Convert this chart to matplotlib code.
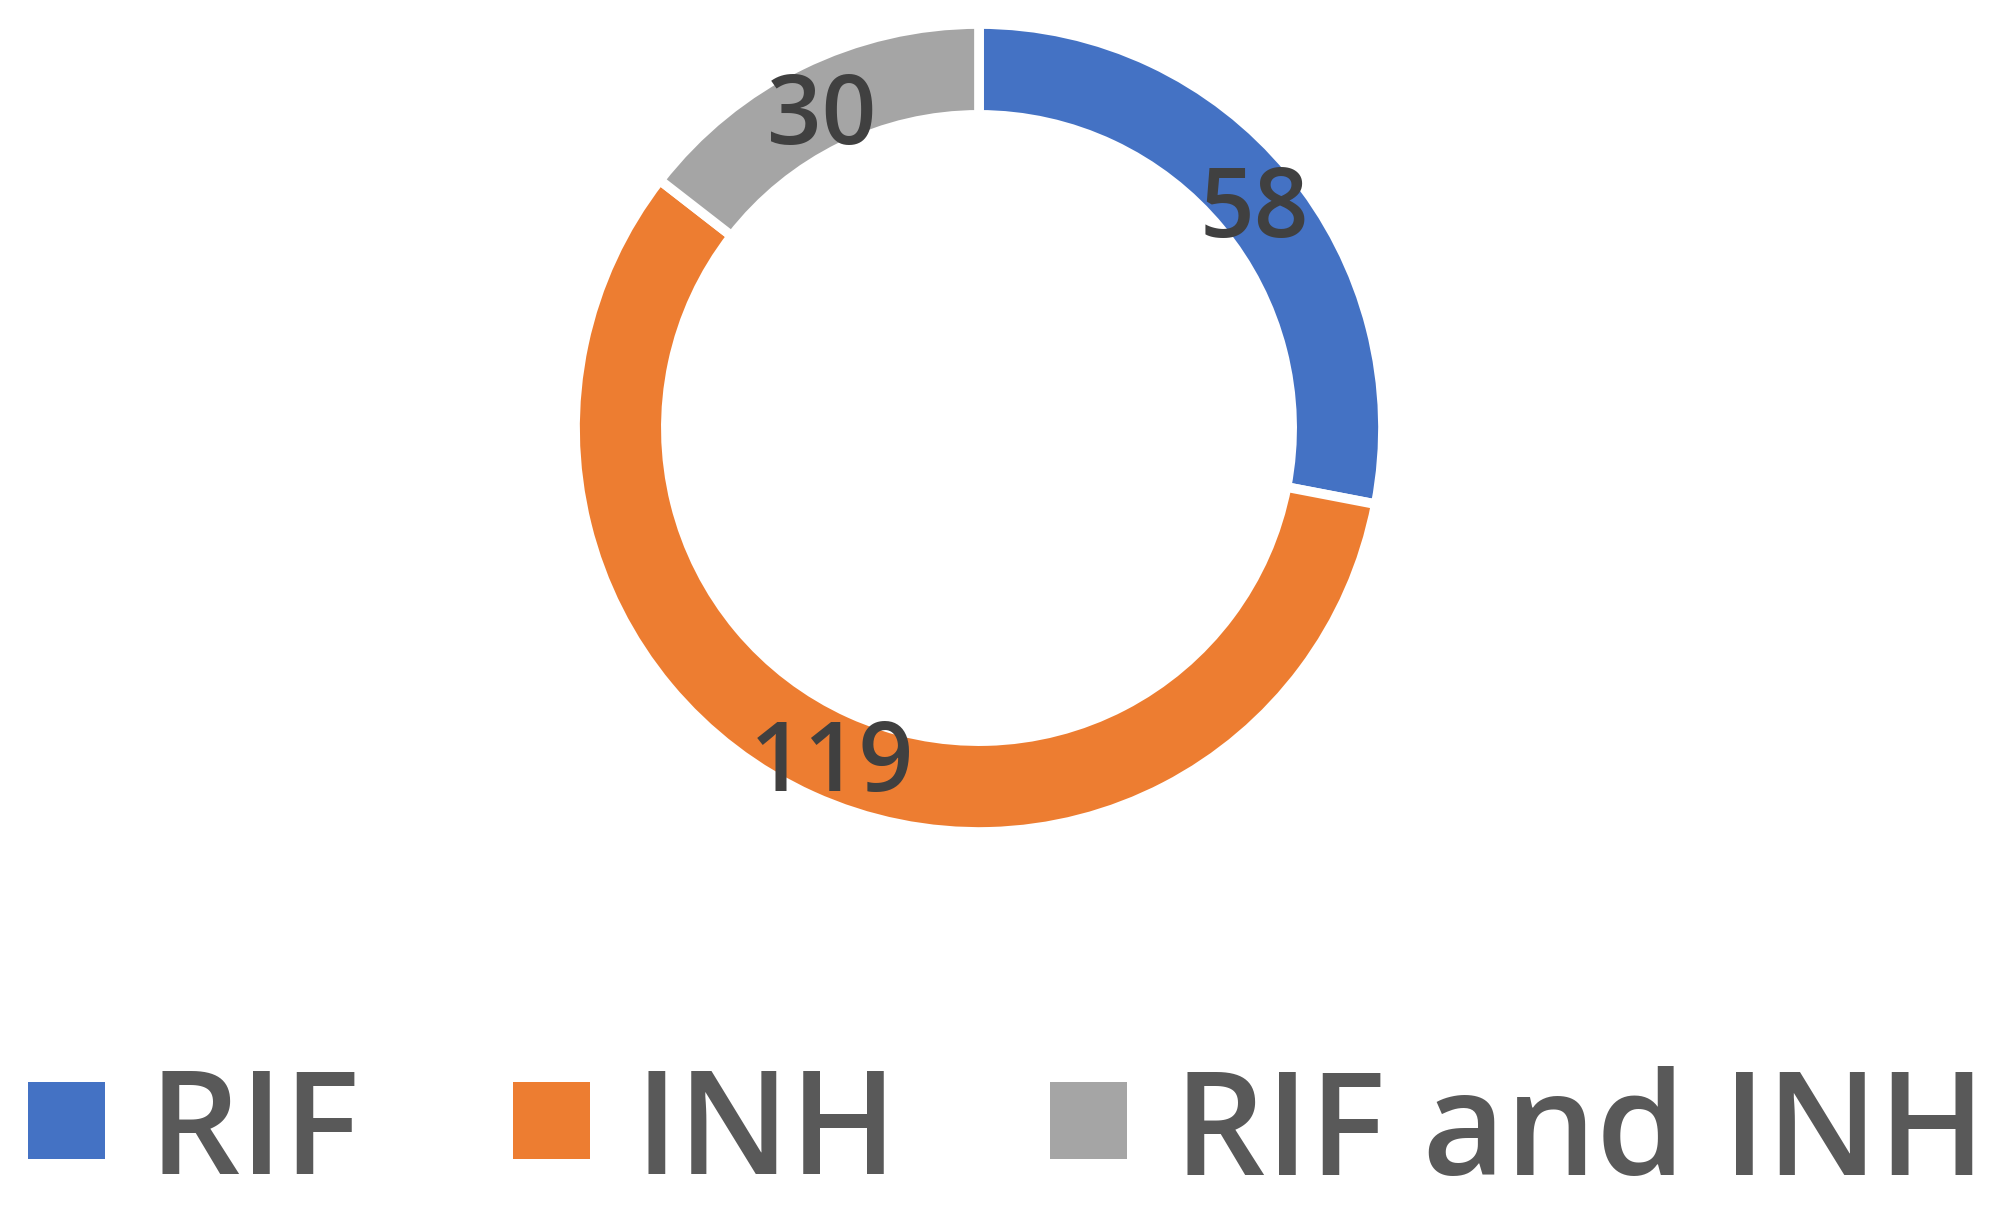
import matplotlib
matplotlib.use("Agg")
import matplotlib.pyplot as plt
from matplotlib.patches import Rectangle
import numpy as np

# dati
categorie = ["RIF", "INH", "RIF and INH"]
valori = [58, 119, 30]
colori = ["#4472C4", "#ED7D31", "#A5A5A5"]

plt.rcParams['font.family'] = ['Open Sans', 'DejaVu Sans']

W, H = 2012, 1214
fig = plt.figure(figsize=(W / 100, H / 100), dpi=100)

# ciambella: centro ~(979, 428) px dall'alto, raggio ~404 px
cx, cy, r = 979, 428, 404
ax = fig.add_axes([(cx - r) / W, (H - cy - r) / H, 2 * r / W, 2 * r / H])
wedges, _ = ax.pie(valori, colors=colori, startangle=90, counterclock=False,
                   radius=1.0, wedgeprops=dict(width=0.225, edgecolor='white', linewidth=7))
ax.set_xlim(-1, 1)
ax.set_ylim(-1, 1)
ax.set_aspect('equal')

# etichette dei valori al centro dell'anello
for w, v in zip(wedges, valori):
    ang = np.radians((w.theta1 + w.theta2) / 2)
    rr = 0.885
    ax.text(rr * np.cos(ang), rr * np.sin(ang) - 0.03, str(v), ha='center', va='center',
            fontsize=69, color='#404040', fontweight='semibold')

# legenda manuale in basso
x_quadrati = [28, 513, 1050]
x_testi = [148, 634, 1174]
y_centro = 1120
lato = 77
for cat, col, xq, xt in zip(categorie, colori, x_quadrati, x_testi):
    fig.add_artist(Rectangle((xq / W, (H - y_centro - lato / 2) / H), lato / W, lato / H,
                             transform=fig.transFigure, facecolor=col, edgecolor='none'))
    fig.text(xt / W, (H - y_centro) / H, cat, ha='left', va='center_baseline',
             fontsize=103, color='#595959', fontweight='semibold')

fig.savefig("out.png", dpi=100)
